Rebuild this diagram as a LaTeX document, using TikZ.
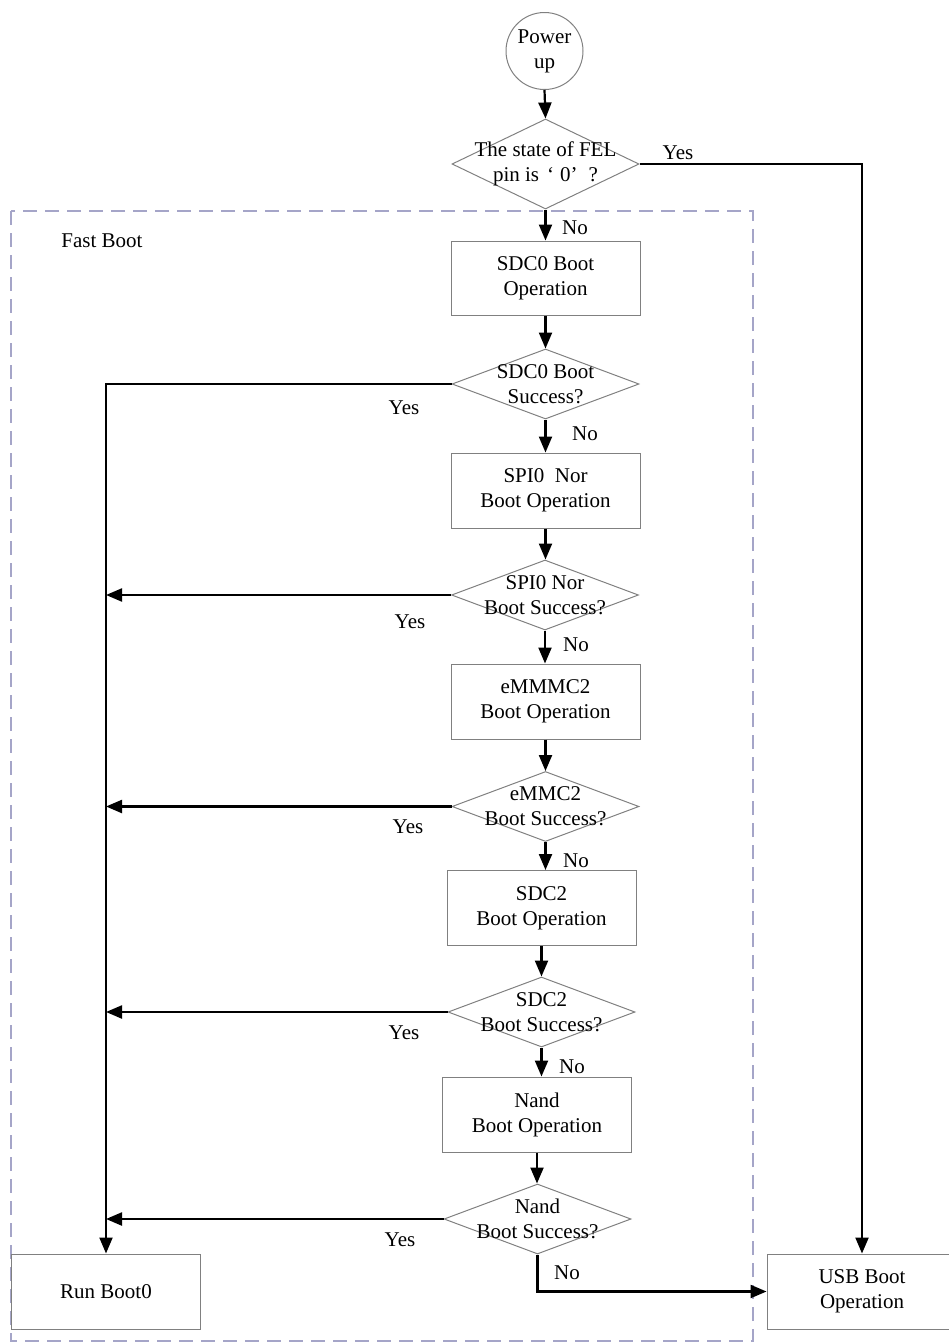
\documentclass[tikz,border=0pt]{standalone}
\usepackage{fontspec}
\setmainfont{Liberation Serif}
\usetikzlibrary{shapes.geometric,arrows.meta}
\definecolor{outl}{RGB}{128,128,128}
\definecolor{dashc}{RGB}{165,165,200}
\begin{document}
\begin{tikzpicture}[x=1pt,y=-1pt,
  txt/.style={font=\fontsize{21}{25}\selectfont, align=center},
  box/.style={draw=outl, line width=1pt, rectangle, minimum width=189pt, minimum height=75pt, inner sep=0pt, txt},
  dia/.style={draw=outl, line width=1pt, diamond, minimum width=187pt, minimum height=70pt, inner sep=0pt},
  conn/.style={line width=2.2pt, -{Triangle[length=16pt,width=13pt]}},
  lab/.style={font=\fontsize{21}{25}\selectfont, inner sep=0pt}
]
\useasboundingbox (0,0) rectangle (948,1344);
\draw[dashc, line width=1.8pt, dash pattern=on 14pt off 8pt] (11,211) rectangle (753,1341);
\node[lab] (fast) at (102,241) {Fast Boot};

\node[draw=outl, line width=1pt, circle, minimum size=77pt, inner sep=0pt, txt] (pw) at (544.5,51) {Power\\up};
\node[dia, minimum height=90pt, label={[txt]center:{The state of FEL\\pin is\hspace{8pt}‘\hspace{6pt}0’\hspace{11pt}?}}] (d1) at (545.5,164) {};
\node[box, minimum height=74pt] (b1) at (545.5,278) {SDC0 Boot\\Operation};
\node[dia, label={[txt]center:{SDC0 Boot\\Success?}}] (d2) at (545.5,384) {};
\node[box] (b2) at (545.5,490.5) {SPI0\ \ Nor\\Boot Operation};
\node[dia, label={[txt]center:{SPI0 Nor\\Boot Success?}}] (d3) at (545,595) {};
\node[box] (b3) at (545.5,701.5) {eMMMC2\\Boot Operation};
\node[dia, label={[txt]center:{eMMC2\\Boot Success?}}] (d4) at (545.5,806.5) {};
\node[box] (b4) at (541.5,908) {SDC2\\Boot Operation};
\node[dia, label={[txt]center:{SDC2\\Boot Success?}}] (d5) at (541.5,1012) {};
\node[box] (b5) at (537,1114.5) {Nand\\Boot Operation};
\node[dia, label={[txt]center:{Nand\\Boot Success?}}] (d6) at (537.5,1219) {};
\node[box] (run) at (106,1291.5) {Run Boot0};
\node[box, minimum width=190pt] (usb) at (862,1291.5) {USB Boot\\Operation};

\draw[conn] (pw.south) -- (d1.north);
\draw[conn] (d1.east) -| (usb.north);
\draw[conn] (d1.south) -- (b1.north);
\draw[conn] (b1.south) -- (d2.north);
\draw[conn] (d2.west) -| (run.north);
\draw[conn] (d2.south) -- (d2.south |- b2.north);
\draw[conn] (b2.south) -- (b2.south |- d3.north);
\draw[conn] (d3.west) -- (d3.west -| run.north);
\draw[conn] (d3.south) -- (d3.south |- b3.north);
\draw[conn] (b3.south) -- (b3.south |- d4.north);
\draw[conn] (d4.west) -- (d4.west -| run.north);
\draw[conn] (d4.south) -- (d4.south |- b4.north);
\draw[conn] (b4.south) -- (b4.south |- d5.north);
\draw[conn] (d5.west) -- (d5.west -| run.north);
\draw[conn] (d5.south) -- (d5.south |- b5.north);
\draw[conn] (b5.south) -- (b5.south |- d6.north);
\draw[conn] (d6.west) -- (d6.west -| run.north);
\draw[conn] (d6.south) |- (usb.west);

\node[lab] (y1) at (678,153) {Yes};
\node[lab] (n1) at (575,228) {No};
\node[lab] (y2) at (404,408) {Yes};
\node[lab] (n2) at (585,434) {No};
\node[lab] (y3) at (410,622) {Yes};
\node[lab] (n3) at (576,645) {No};
\node[lab] (y4) at (408,827) {Yes};
\node[lab] (n4) at (576,861) {No};
\node[lab] (y5) at (404,1033) {Yes};
\node[lab] (n5) at (572,1067) {No};
\node[lab] (y6) at (400,1240) {Yes};
\node[lab] (n6) at (567,1273) {No};
\end{tikzpicture}
\end{document}
